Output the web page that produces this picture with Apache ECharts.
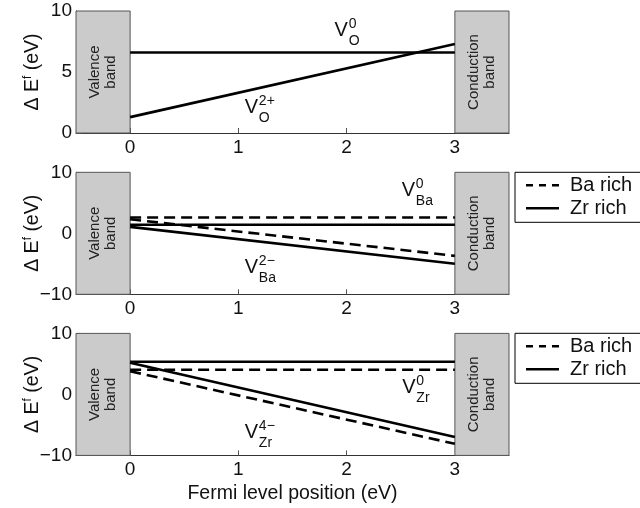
<!DOCTYPE html>
<html><head><meta charset="utf-8">
<script src="https://cdn.jsdelivr.net/npm/echarts@6/dist/echarts.min.js"></script>
<style>html,body{margin:0;padding:0;background:#fff}#c{width:640px;height:508px}</style>
</head><body><div id="c"></div>
<script>
// ---- data ----
const fermiX = [0, 3];
const xTicks = [0, 1, 2, 3];
// panel 1 (O vacancy)
const vO0 = [6.6, 6.6];
const vO2p = [1.3, 7.3];
// panel 2 (Ba vacancy)
const vBa0_BaRich = [2.6, 2.6];
const vBa0_ZrRich = [1.4, 1.4];
const vBa2m_BaRich = [2.3, -3.7];
const vBa2m_ZrRich = [1.05, -5.0];
// panel 3 (Zr vacancy)
const vZr0_ZrRich = [5.35, 5.35];
const vZr0_BaRich = [4.05, 4.05];
const vZr4m_ZrRich = [5.2, -7.0];
const vZr4m_BaRich = [3.8, -8.1];
const legendNames = ['Ba rich', 'Zr rich'];
// annotation labels: [panel, x, y, sup, sub]
const defectLabels = [
  [0, 1.95, 8.44, '0', 'O'],
  [0, 1.12, 2.09, '2+', 'O'],
  [1, 2.57, 7.1, '0', 'Ba'],
  [1, 1.12, -5.6, '2\u2212', 'Ba'],
  [2, 2.575, 1.14, '0', 'Zr'],
  [2, 1.12, -6.2, '4\u2212', 'Zr']
];

const FONT = "'Liberation Sans', Arial, sans-serif";
const chart = echarts.init(document.getElementById('c'), null, {renderer: 'canvas'});
const tops = [11, 172.3, 333.4];
const yRanges = [[0, 10, 5], [-10, 10, 10], [-10, 10, 10]];
const DASH = [11, 6];

function pts(v) { return fermiX.map((x, i) => [x, v[i]]); }

const grids = tops.map(t => ({left: 76, top: t, width: 433, height: 122}));
const xAxes = tops.map((t, i) => ({
  type: 'value', gridIndex: i, min: -0.5, max: 3.5,
  axisLine: {show: true, onZero: false, lineStyle: {color: '#333', width: 1}},
  axisTick: {show: true, inside: true, length: 5, customValues: xTicks, lineStyle: {color: '#555'}},
  axisLabel: {customValues: xTicks, fontSize: 19, color: '#111', margin: 5, fontFamily: FONT},
  splitLine: {show: false},
  name: i === 2 ? 'Fermi level position (eV)' : '',
  nameLocation: 'middle', nameGap: 28, nameMoveOverlap: false,
  nameTextStyle: {fontSize: 19.5, color: '#111', fontFamily: FONT}
}));
const yAxes = tops.map((t, i) => ({
  type: 'value', gridIndex: i, min: yRanges[i][0], max: yRanges[i][1], interval: yRanges[i][2],
  axisLine: {show: true, onZero: false, lineStyle: {color: '#333', width: 1}},
  axisTick: {show: true, inside: true, length: 5, lineStyle: {color: '#555'}},
  axisLabel: {fontSize: 19, color: '#111', margin: 4, fontFamily: FONT,
    formatter: v => String(v).replace('-', '\u2212')},
  splitLine: {show: false},
  name: '\u0394 E{s|f} (eV)', nameLocation: 'middle', nameRotate: 90, nameGap: 33, nameMoveOverlap: false,
  nameTextStyle: {fontSize: 19.5, color: '#111', fontFamily: FONT, lineHeight: 21,
    rich: {s: {fontSize: 12, fontFamily: FONT, color: '#111', verticalAlign: 'top', lineHeight: 21}}}
}));

function bandArea(i) {
  const lo = yRanges[i][0], hi = yRanges[i][1];
  const lbl = (txt) => ({show: true, position: 'inside', rotate: 90, formatter: txt,
    fontSize: 15, lineHeight: 16.5, color: '#222', fontFamily: FONT, align: 'center'});
  return {
    silent: true,
    itemStyle: {color: '#cbcbcb', opacity: 1, borderColor: '#555', borderWidth: 1},
    emphasis: {disabled: true},
    data: [
      [{xAxis: -0.5, yAxis: lo, label: lbl('Valence\nband')}, {xAxis: 0, yAxis: hi}],
      [{xAxis: 3, yAxis: lo, label: lbl('Conduction\nband')}, {xAxis: 3.5, yAxis: hi}]
    ]
  };
}

function line(name, panel, v, dashed, withArea) {
  const s = {
    type: 'line', name: name, xAxisIndex: panel, yAxisIndex: panel,
    data: pts(v), symbol: 'none', silent: true,
    lineStyle: {color: '#000', width: 2.6, type: dashed ? DASH : 'solid'},
    itemStyle: {color: '#000'},
    emphasis: {disabled: true}, z: 3
  };
  if (withArea) s.markArea = bandArea(panel);
  return s;
}

const series = [
  line('VO0', 0, vO0, false, true),
  line('VO2+', 0, vO2p, false, false),
  line('Ba rich', 1, vBa0_BaRich, true, true),
  line('Zr rich', 1, vBa0_ZrRich, false, false),
  line('Ba rich', 1, vBa2m_BaRich, true, false),
  line('Zr rich', 1, vBa2m_ZrRich, false, false),
  line('Zr rich', 2, vZr0_ZrRich, false, true),
  line('Ba rich', 2, vZr0_BaRich, true, false),
  line('Zr rich', 2, vZr4m_ZrRich, false, false),
  line('Ba rich', 2, vZr4m_BaRich, true, false)
];

function legendAt(top) {
  return {
    left: 515, top: top, orient: 'vertical', itemGap: 3,
    itemWidth: 33, itemHeight: 2.6, selectedMode: false, symbolKeepAspect: false,
    padding: [3, 60, 4, 11],
    borderColor: '#000', borderWidth: 1, backgroundColor: '#fff',
    textStyle: {fontSize: 20, color: '#111', fontFamily: FONT, lineHeight: 20, padding: [0, 0, 0, 6]},
    itemStyle: {color: '#000'},
    data: [
      {name: legendNames[0], icon: 'path://M0,0h7v3h-7z M13,0h7v3h-7z M26,0h7v3h-7z'},
      {name: legendNames[1], icon: 'rect'}
    ]
  };
}

chart.setOption({
  animation: false,
  backgroundColor: '#fff',
  textStyle: {fontFamily: FONT},
  grid: grids, xAxis: xAxes, yAxis: yAxes,
  legend: [legendAt(172.3), legendAt(333.3)],
  series: series
});

// defect labels placed through the axes' scales
const graphics = [];
defectLabels.forEach(([p, x, y, sup, sub]) => {
  const [px, py] = chart.convertToPixel({gridIndex: p}, [x, y]);
  graphics.push({type: 'text', x: px, y: py, silent: true, z: 10,
    style: {text: 'V', fontSize: 20, fontFamily: FONT, fill: '#111', align: 'center', verticalAlign: 'middle'}});
  graphics.push({type: 'text', x: px + 7.5, y: py - 6, silent: true, z: 10,
    style: {text: sup, fontSize: 14, fontFamily: FONT, fill: '#111', align: 'left', verticalAlign: 'middle'}});
  graphics.push({type: 'text', x: px + 7.5, y: py + 11, silent: true, z: 10,
    style: {text: sub, fontSize: 14, fontFamily: FONT, fill: '#111', align: 'left', verticalAlign: 'middle'}});
});
chart.setOption({graphic: graphics});
</script></body></html>
